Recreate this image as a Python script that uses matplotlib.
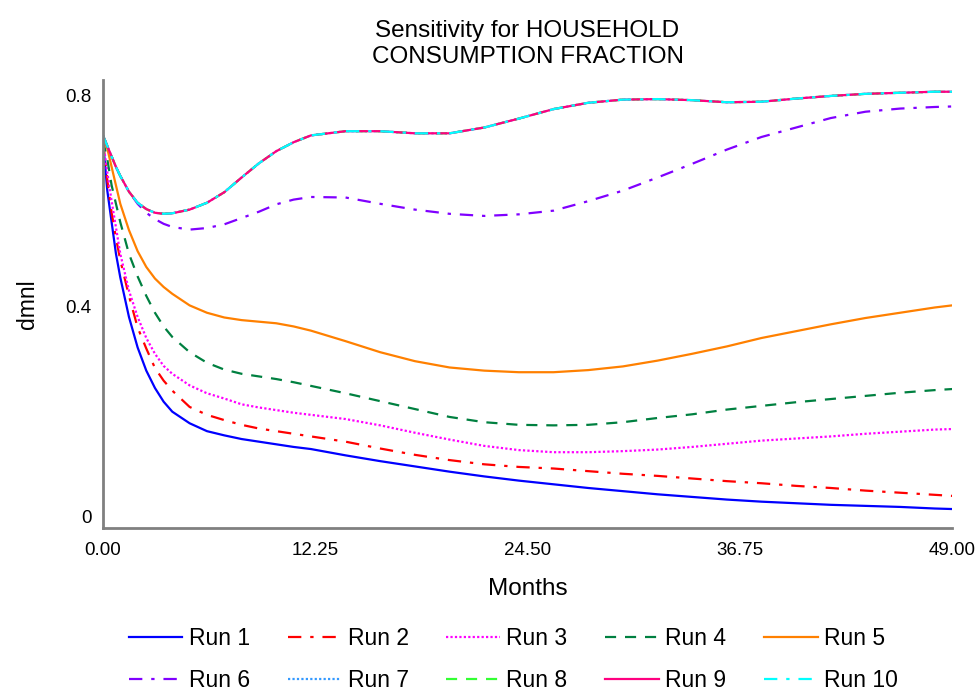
import matplotlib
matplotlib.use("Agg")
import matplotlib.pyplot as plt

# Data
months = [0, 0.25, 0.5, 0.75, 1, 1.5, 2, 2.5, 3, 3.5, 4, 5, 6, 7, 8, 9, 10, 11, 12,
          14, 16, 18, 20, 22, 24, 26, 28, 30, 32, 34, 36, 38, 40, 42, 44, 46, 48, 49]

run1 = [0.715, 0.62, 0.56, 0.50, 0.455, 0.38, 0.322, 0.278, 0.245, 0.219, 0.20, 0.178, 0.163,
        0.155, 0.148, 0.143, 0.138, 0.133, 0.129,
        0.117, 0.106, 0.096, 0.086, 0.077, 0.069, 0.062, 0.055, 0.049,
        0.043, 0.038, 0.033, 0.029, 0.026, 0.023, 0.021, 0.019, 0.016, 0.015]
run2 = [0.715, 0.64, 0.578, 0.53, 0.488, 0.42, 0.36, 0.32, 0.283, 0.259, 0.24, 0.209, 0.194,
        0.184, 0.175, 0.168, 0.163, 0.158, 0.153,
        0.143, 0.13, 0.118, 0.108, 0.10, 0.095, 0.092, 0.087, 0.082,
        0.078, 0.073, 0.068, 0.064, 0.059, 0.055, 0.05, 0.046, 0.042, 0.040]
run3 = [0.715, 0.655, 0.60, 0.55, 0.50, 0.43, 0.38, 0.34, 0.31, 0.287, 0.272, 0.25, 0.235,
        0.225, 0.214, 0.208, 0.203, 0.198, 0.194,
        0.186, 0.174, 0.16, 0.147, 0.135, 0.127, 0.123, 0.123, 0.125,
        0.128, 0.133, 0.139, 0.145, 0.149, 0.153, 0.158, 0.162, 0.166, 0.167]
run4 = [0.715, 0.68, 0.63, 0.595, 0.56, 0.50, 0.457, 0.42, 0.388, 0.362, 0.342, 0.313, 0.293,
        0.28, 0.272, 0.267, 0.262, 0.256, 0.249,
        0.235, 0.22, 0.205, 0.19, 0.18, 0.175, 0.174, 0.175, 0.18,
        0.188, 0.195, 0.204, 0.211, 0.218, 0.224, 0.23, 0.236, 0.241, 0.243]
run5 = [0.72, 0.70, 0.665, 0.63, 0.595, 0.545, 0.505, 0.475, 0.453, 0.437, 0.424, 0.402, 0.388,
        0.379, 0.374, 0.371, 0.368, 0.362, 0.354,
        0.334, 0.313, 0.296, 0.284, 0.278, 0.275, 0.275, 0.279, 0.286,
        0.297, 0.31, 0.324, 0.34, 0.353, 0.366, 0.378, 0.388, 0.398, 0.402]
run6 = [0.725, 0.705, 0.685, 0.665, 0.648, 0.618, 0.595, 0.578, 0.566, 0.557, 0.551, 0.546,
        0.549, 0.556, 0.568, 0.58, 0.594, 0.603, 0.608,
        0.607, 0.595, 0.584, 0.576, 0.572, 0.575, 0.582, 0.600, 0.620,
        0.645, 0.671, 0.698, 0.722, 0.74, 0.758, 0.770, 0.776, 0.779, 0.780]
# runs 7-10 lie on top of each other
run7 = [0.725, 0.705, 0.685, 0.665, 0.648, 0.618, 0.597, 0.585, 0.578, 0.576, 0.577, 0.584,
        0.597, 0.617, 0.645, 0.672, 0.695, 0.712, 0.725,
        0.733, 0.733, 0.729, 0.729, 0.74, 0.757, 0.775, 0.787, 0.793,
        0.794, 0.792, 0.788, 0.789, 0.795, 0.800, 0.804, 0.806, 0.808, 0.808]
run8 = run7
run9 = run7
run10 = run7

labels = ["Run 1", "Run 2", "Run 3", "Run 4", "Run 5",
          "Run 6", "Run 7", "Run 8", "Run 9", "Run 10"]
series = [run1, run2, run3, run4, run5, run6, run7, run8, run9, run10]
colors = ["#0000FF", "#FF0000", "#FF00FF", "#008040", "#FF8000",
          "#8000FF", "#3399FF", "#33FF33", "#FF0080", "#00FFFF"]
styles = ["-", (0, (6, 4, 1.5, 4)), (0, (1, 1)), (0, (5, 4)), "-",
          (0, (6, 4, 1.5, 4)), (0, (1, 1)), (0, (5, 4)), "-", (0, (6, 4, 1.5, 4))]

plt.rcParams['font.family'] = ['Liberation Sans', 'DejaVu Sans']

fig = plt.figure(figsize=(9.76, 6.97), dpi=100)
ax = fig.add_axes([0.1055, 0.2425, 0.87, 0.6425])

handles = []
for y, lab, c, ls in zip(series, labels, colors, styles):
    h, = ax.plot(months, y, color=c, linestyle=ls, linewidth=1.6, label=lab)
    handles.append(h)

ax.set_xlim(0, 49)
ax.set_ylim(-0.021, 0.83)
ax.set_xticks([0, 12.25, 24.5, 36.75, 49])
ax.set_xticklabels(["0.00", "12.25", "24.50", "36.75", "49.00"])
ax.set_yticks([0, 0.4, 0.8])
ax.set_yticklabels(["0", "0.4", "0.8"])
ax.tick_params(axis='x', length=0, pad=10, labelsize=13.5)
ax.tick_params(axis='y', length=0, pad=8, labelsize=13.5)

for s in ['top', 'right']:
    ax.spines[s].set_visible(False)
for s in ['left', 'bottom']:
    ax.spines[s].set_color('#808080')
    ax.spines[s].set_linewidth(2)

ax.set_title("Sensitivity for HOUSEHOLD\nCONSUMPTION FRACTION", fontsize=17.5, pad=12,
             linespacing=1.25)
ax.set_xlabel("Months", fontsize=17.5, labelpad=14)
ax.set_ylabel("dmnl", fontsize=16.5, labelpad=19)

# legend filled row by row
order = [0, 5, 1, 6, 2, 7, 3, 8, 4, 9]
fig.legend([handles[i] for i in order], [labels[i] for i in order],
           loc='center', bbox_to_anchor=(0.526, 0.054), ncol=5, frameon=False,
           fontsize=16.5, handlelength=2.35, handletextpad=0.27, columnspacing=1.65,
           labelspacing=0.85)

fig.savefig("out.png", dpi=100)
